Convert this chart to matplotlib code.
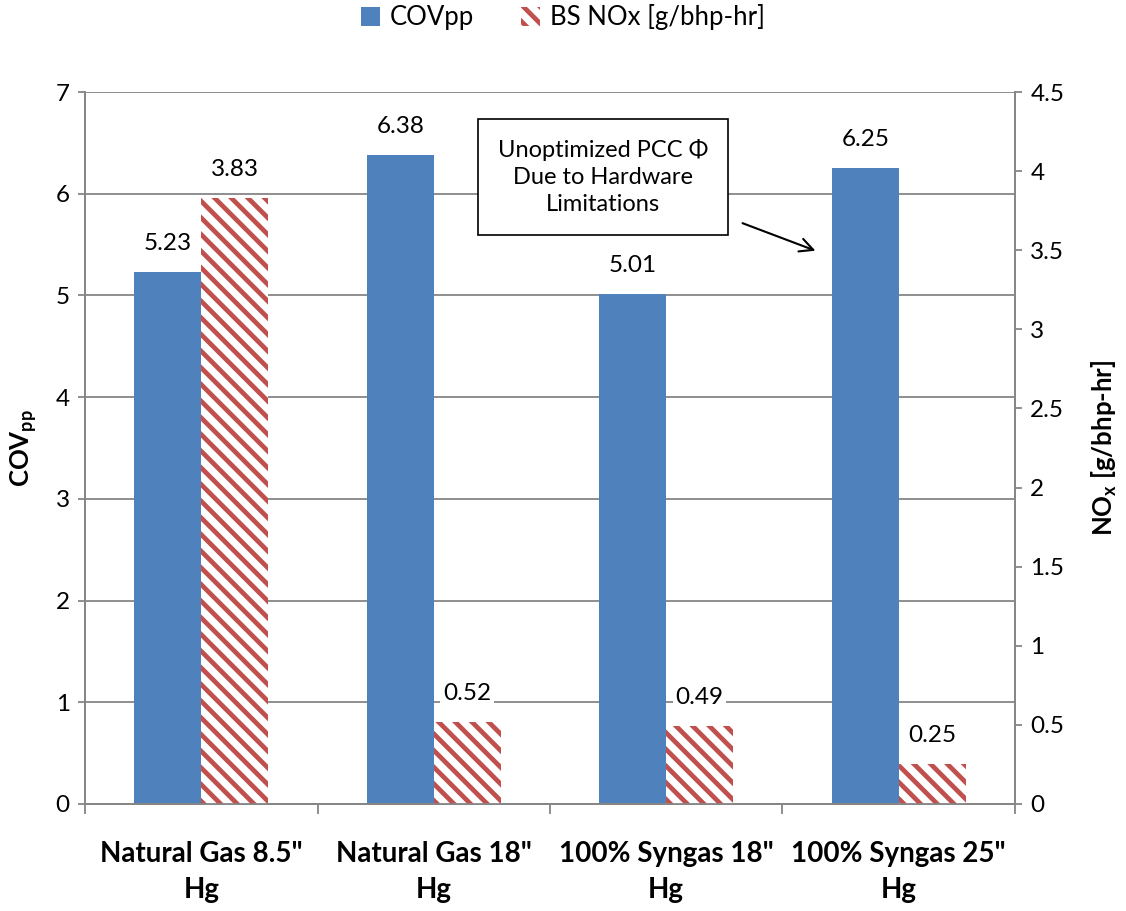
import matplotlib.pyplot as plt
import numpy as np

categories = ['Natural Gas 8.5"\nHg', 'Natural Gas 18"\nHg', '100% Syngas 18"\nHg', '100% Syngas 25"\nHg']
cov_pp = [5.23, 6.38, 5.01, 6.25]
bs_nox = [3.83, 0.52, 0.49, 0.25]

blue = '#4F81BD'
red = '#C0504D'
grid_gray = '#868686'

plt.rcParams['font.family'] = ['Lato', 'DejaVu Sans']
plt.rcParams['hatch.linewidth'] = 3.4
plt.rcParams['mathtext.fontset'] = 'custom'
plt.rcParams['mathtext.bf'] = 'Lato:bold'
plt.rcParams['mathtext.rm'] = 'Lato'


def main():
    fig = plt.figure(figsize=(11.26, 9.11), dpi=100)
    ax = fig.add_axes([0.0755, 0.1175, 0.8259, 0.7815])
    ax2 = ax.twinx()

    x = np.arange(len(categories))
    w = 0.288

    ax.bar(x - w / 2, cov_pp, w, color=blue, label='COVpp', zorder=2)
    ax2.bar(x + w / 2, bs_nox, w, color='white', edgecolor=red, linewidth=0,
            hatch='\\\\', label='BS NOx [g/bhp-hr]', zorder=2)

    ax.set_xlim(-0.5, len(categories) - 0.5)
    ax.set_ylim(0, 7)
    ax2.set_ylim(0, 4.5)
    ax.set_yticks(np.arange(0, 8, 1))
    ax2.set_yticks(np.arange(0, 5, 0.5))
    ax2.set_yticklabels(['0', '0.5', '1', '1.5', '2', '2.5', '3', '3.5', '4', '4.5'])

    ax.yaxis.grid(True, color=grid_gray, linewidth=1.3)
    ax.set_axisbelow(True)

    for a in (ax, ax2):
        for s in a.spines.values():
            s.set_color(grid_gray)
            s.set_linewidth(1.3)
        a.spines['top'].set_visible(False)
    ax.tick_params(axis='y', labelsize=17.5, length=5, color=grid_gray, width=1.3, pad=6)
    ax2.tick_params(axis='y', labelsize=17.5, length=5, color=grid_gray, width=1.3, pad=6)

    ax.set_xticks(x)
    ax.set_xticklabels(categories, fontsize=20, fontweight='bold', linespacing=1.45)
    ax.set_xticks(np.arange(-0.5, len(categories), 1), minor=True)
    ax.tick_params(axis='x', which='major', length=0, pad=27)
    ax.tick_params(axis='x', which='minor', length=7, color=grid_gray, width=1.3)

    ax.set_ylabel('COV$_{\\mathbf{pp}}$', fontsize=18.5, fontweight='bold', labelpad=12)
    ax2.set_ylabel('NO$_{\\mathbf{x}}$ [g/bhp-hr]', fontsize=18.5, fontweight='bold', labelpad=18)

    box = dict(facecolor='white', edgecolor='none', pad=2)
    for xi, v in zip(x, cov_pp):
        ax.annotate(f'{v:.2f}', (xi - w / 2, v), xytext=(0, 13), textcoords='offset points',
                    ha='center', va='bottom', fontsize=17.5, bbox=box, zorder=5)
    for xi, v in zip(x, bs_nox):
        ax2.annotate(f'{v:.2f}', (xi + w / 2, v), xytext=(0, 13), textcoords='offset points',
                     ha='center', va='bottom', fontsize=17.5, bbox=box, zorder=5)

    ax.text(1.728, 6.165, 'Unoptimized PCC \u03a6\nDue to Hardware\nLimitations', ha='center', va='center',
            fontsize=17, linespacing=1.35, zorder=6,
            bbox=dict(facecolor='white', edgecolor='black', linewidth=1.2, boxstyle='square,pad=0.85'))
    ax.annotate('', xy=(2.653, 5.43), xytext=(2.317, 5.72),
                arrowprops=dict(arrowstyle='->', color='black', lw=1.5, mutation_scale=24), zorder=6)

    h1, l1 = ax.get_legend_handles_labels()
    h2, l2 = ax2.get_legend_handles_labels()
    fig.legend(h1 + h2, l1 + l2, loc='center', bbox_to_anchor=(0.5, 0.981), ncol=2, frameon=False,
               fontsize=18.5, handlelength=0.75, handleheight=0.75, handletextpad=0.4, columnspacing=1.8)

    plt.savefig('out.png', dpi=100)


if __name__ == '__main__':
    main()
